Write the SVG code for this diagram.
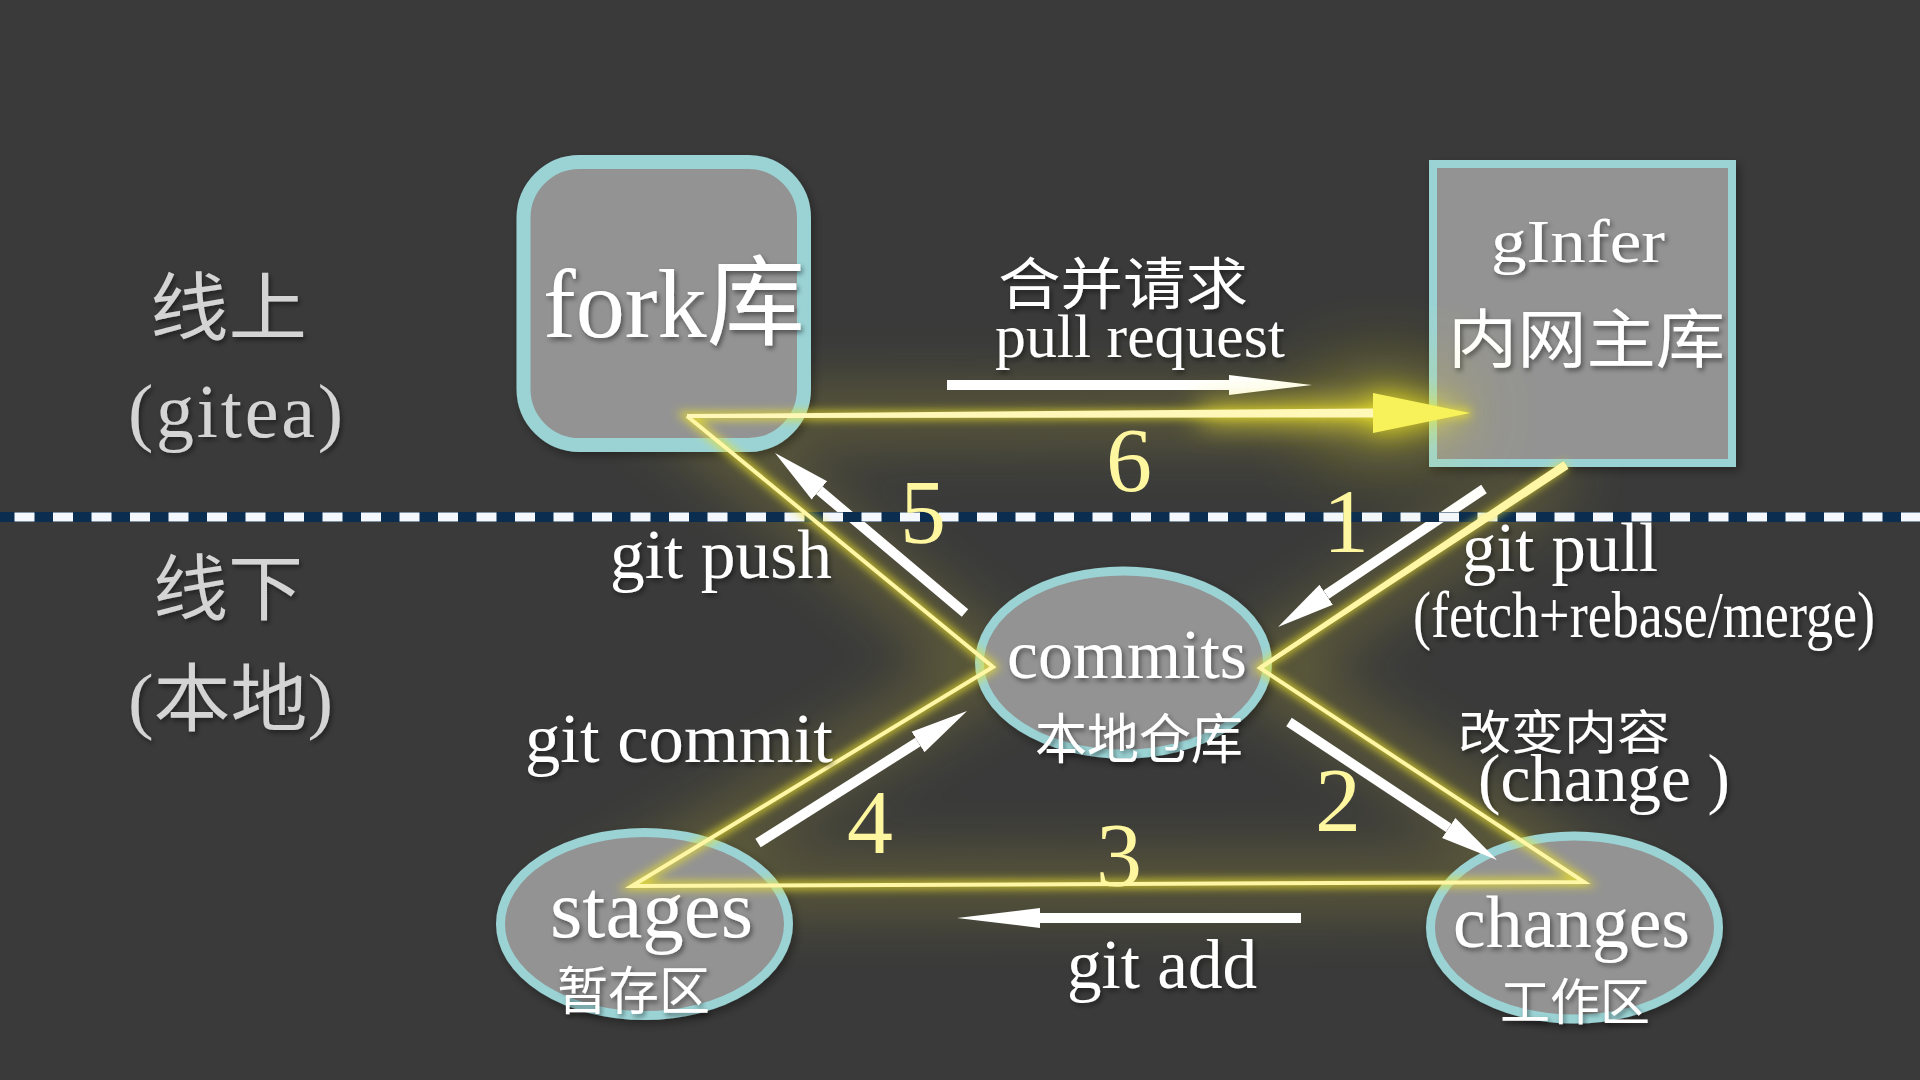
<svg xmlns="http://www.w3.org/2000/svg" width="1920" height="1080" viewBox="0 0 1920 1080">
<defs>
<style>
.node{fill:#939393;stroke:#9bd3d5}
.en{font-family:'Liberation Serif','Noto Sans CJK SC',serif;fill:#ffffff}
.cj{font-family:'Noto Sans CJK SC',sans-serif;fill:#ffffff}
.side{fill:#d4d4d4}
.num{font-family:'Liberation Serif',serif;fill:#fff6a0;font-size:92px;text-anchor:middle}
.arr{stroke:#ffffff;stroke-width:10;fill:none}
.core{fill:none;stroke:#fff6a6;stroke-width:4;stroke-linejoin:miter}
.glowline{fill:none;stroke:#ece22a;stroke-width:8}
</style>
<filter id="sh" x="-10%" y="-10%" width="130%" height="140%">
<feDropShadow dx="2" dy="3" stdDeviation="2.5" flood-color="#000" flood-opacity="0.45"/>
</filter>
<filter id="nsh" x="-10%" y="-10%" width="130%" height="130%">
<feDropShadow dx="3" dy="4" stdDeviation="5" flood-color="#000" flood-opacity="0.35"/>
</filter>
<filter id="g6" filterUnits="userSpaceOnUse" x="0" y="0" width="1920" height="1080">
<feGaussianBlur stdDeviation="5"/>
</filter>
<filter id="g30" filterUnits="userSpaceOnUse" x="0" y="0" width="1920" height="1080">
<feGaussianBlur stdDeviation="30"/>
</filter>
<filter id="g14" filterUnits="userSpaceOnUse" x="0" y="0" width="1920" height="1080">
<feGaussianBlur stdDeviation="14"/>
</filter>
<filter id="g45" filterUnits="userSpaceOnUse" x="0" y="0" width="1920" height="1080">
<feGaussianBlur stdDeviation="45"/>
</filter>
<marker id="hd" markerUnits="userSpaceOnUse" markerWidth="60" markerHeight="28" viewBox="0 -14 60 28" refX="0" refY="0" orient="auto">
<path d="M0,-12 L58,0 L0,12 Z" fill="#ffffff"/>
</marker>
<marker id="hh" markerUnits="userSpaceOnUse" markerWidth="86" markerHeight="24" viewBox="0 -12 86 24" refX="0" refY="0" orient="auto">
<path d="M0,-10 L83,0 L0,10 Z" fill="#ffffff"/>
</marker>
</defs>

<rect x="0" y="0" width="1920" height="1080" fill="#3a3a3a"/>

<!-- haze -->
<g id="haze" opacity="0.28">
<polyline points="1566,465 1260,668 1584,882 632,886 993,667 687,416 1470,413" fill="none" stroke="#c9bf3a" stroke-width="50" filter="url(#g30)"/>
</g>

<g id="side-labels" filter="url(#sh)">
<text class="cj side" x="150" y="334" font-size="74" textLength="157" lengthAdjust="spacingAndGlyphs">线上</text>
<text class="en side" x="128" y="437" font-size="76" textLength="215" lengthAdjust="spacing">(gitea)</text>
<text class="cj side" x="153" y="614" font-size="72" textLength="150" lengthAdjust="spacingAndGlyphs">线下</text>
<text class="en side" x="128" y="725" font-size="74" textLength="205" lengthAdjust="spacingAndGlyphs">(本地)</text>
</g>

<g id="node-fork">
<rect class="node" x="523.5" y="162" width="280.5" height="283" rx="56" stroke-width="14" filter="url(#nsh)"/>
<text class="en" x="543" y="337" font-size="98" filter="url(#sh)" textLength="262" lengthAdjust="spacingAndGlyphs">fork库</text>
</g>

<g id="node-ginfer">
<rect class="node" x="1433" y="164" width="299" height="299" stroke-width="8" filter="url(#nsh)"/>
<text class="en" x="1491" y="262" font-size="62" textLength="174" lengthAdjust="spacingAndGlyphs" filter="url(#sh)">gInfer</text>
<text class="cj" x="1448" y="362" font-size="64" textLength="277" lengthAdjust="spacingAndGlyphs" filter="url(#sh)">内网主库</text>
</g>

<g id="node-commits">
<ellipse class="node" cx="1123.5" cy="662.5" rx="144" ry="91.5" stroke-width="9" filter="url(#nsh)"/>
<text class="en" x="1007" y="678" font-size="69" textLength="240" lengthAdjust="spacingAndGlyphs" filter="url(#sh)">commits</text>
<text class="cj" x="1035" y="759" font-size="54" textLength="208" lengthAdjust="spacingAndGlyphs" filter="url(#sh)">本地仓库</text>
</g>

<g id="node-stages">
<ellipse class="node" cx="644.5" cy="924" rx="144" ry="91.5" stroke-width="9" filter="url(#nsh)"/>
<text class="en" x="550" y="937" font-size="83" textLength="203" lengthAdjust="spacingAndGlyphs" filter="url(#sh)">stages</text>
<text class="cj" x="557" y="1010" font-size="52" textLength="153" lengthAdjust="spacingAndGlyphs" filter="url(#sh)">暂存区</text>
</g>

<g id="node-changes">
<ellipse class="node" cx="1574.5" cy="927.5" rx="144" ry="91.5" stroke-width="9" filter="url(#nsh)"/>
<text class="en" x="1453" y="947" font-size="75" textLength="237" lengthAdjust="spacingAndGlyphs" filter="url(#sh)">changes</text>
<text class="cj" x="1500" y="1020" font-size="50" textLength="150" lengthAdjust="spacingAndGlyphs" filter="url(#sh)">工作区</text>
</g>

<g id="connectors">
<g id="white-arrows">
<line class="arr" x1="947" y1="385" x2="1229" y2="385" marker-end="url(#hh)"/>
<line class="arr" x1="1301" y1="918" x2="1040" y2="918" marker-end="url(#hh)"/>
<line class="arr" x1="965" y1="613" x2="819.4" y2="490.4" marker-end="url(#hd)"/>
<line class="arr" x1="1484" y1="489" x2="1326.2" y2="594.7" marker-end="url(#hd)"/>
<line class="arr" x1="1289" y1="722" x2="1448.7" y2="827.9" marker-end="url(#hd)"/>
<line class="arr" x1="758" y1="843" x2="918" y2="742" marker-end="url(#hd)"/>
</g>

<g id="divider">
<line x1="0" y1="517" x2="1920" y2="517" stroke="#0b2d50" stroke-width="10"/>
<line x1="0" y1="517" x2="1920" y2="517" stroke="#f4f7fb" stroke-width="9" stroke-dasharray="20 18.5" stroke-dashoffset="24"/>
</g>

<g id="cycle">
<g filter="url(#g45)" opacity="0.75">
<polygon points="1373,385 1475,413 1373,441" fill="#efe624"/>
<rect x="1330" y="395" width="60" height="36" fill="#efe624"/>
</g>
<g filter="url(#g14)">
<polygon points="1373,393 1470,413 1373,433" fill="#f2ea22"/>
<polygon points="1200,406 1373,404 1373,422 1200,422" fill="#eee330"/>
</g>
<g filter="url(#g6)" opacity="0.85">
<polyline class="glowline" points="1566,465 1260,668 1584,882 632,886 993,667 687,416 1470,413"/>
</g>
<polyline class="core" points="1566,465 1260,668 1584,882 632,886 993,667 687,416"/>
<polygon points="1563.5,461.2 1568.5,468.8 1261.1,669.7 1258.9,666.3" fill="#fff6a6"/>
<polygon points="687,414 1373,408.5 1373,417.5 687,418" fill="#fff8b8"/>
<polygon points="1373,393 1470,413 1373,433" fill="#f7f25a"/>
</g>
</g>

<g id="numbers">
<text class="num" x="1129" y="491">6</text>
<text class="num" x="923" y="543">5</text>
<text class="num" x="1346" y="552">1</text>
<text class="num" x="1338" y="831">2</text>
<text class="num" x="1119" y="886">3</text>
<text class="num" x="870" y="853">4</text>
</g>

<g id="edge-labels" filter="url(#sh)">
<text class="cj" x="998" y="304" font-size="56" textLength="250" lengthAdjust="spacingAndGlyphs">合并请求</text>
<text class="en" x="995" y="357" font-size="62" textLength="290" lengthAdjust="spacingAndGlyphs">pull request</text>
<text class="en" x="610" y="578" font-size="70" textLength="222" lengthAdjust="spacingAndGlyphs">git push</text>
<text class="en" x="525" y="762" font-size="70" textLength="308" lengthAdjust="spacingAndGlyphs">git commit</text>
<text class="en" x="1067" y="988" font-size="70" textLength="190" lengthAdjust="spacingAndGlyphs">git add</text>
<text class="en" x="1462" y="571" font-size="69" textLength="196" lengthAdjust="spacingAndGlyphs">git pull</text>
<text class="en" x="1413" y="637" font-size="66" textLength="462" lengthAdjust="spacingAndGlyphs">(fetch+rebase/merge)</text>
<text class="cj" x="1458" y="749" font-size="47" textLength="212" lengthAdjust="spacingAndGlyphs">改变内容</text>
<text class="en" x="1478" y="801" font-size="67" textLength="252" lengthAdjust="spacingAndGlyphs">(change )</text>
</g>
</svg>
